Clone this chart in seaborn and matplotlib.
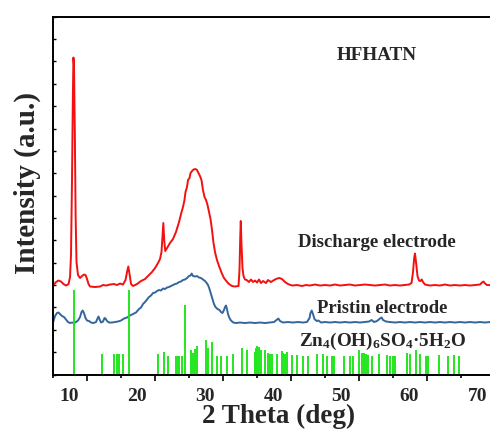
import numpy as np
import pandas as pd
import matplotlib
matplotlib.use("Agg")
import matplotlib.pyplot as plt
from matplotlib.transforms import ScaledTranslation
import seaborn as sns

# ---------------- data ----------------
# Discharge electrode pattern (2 theta in degrees, intensity in a.u.)
discharge_2theta = [
    5.00, 5.40, 5.76, 6.13, 6.50, 6.87, 7.24, 7.46, 7.60, 7.75, 7.87, 7.96, 8.04, 8.16,
    8.28, 8.41, 8.63, 8.93, 9.22, 9.51, 9.74, 9.96, 10.18, 10.40, 11.13, 11.87, 12.31,
    12.75, 13.34, 13.93, 14.37, 14.81, 15.25, 15.62, 15.84, 16.03, 16.21, 16.43, 16.72,
    17.31, 17.90, 18.49, 19.07, 19.51, 19.96, 20.40, 20.69, 20.91, 21.06, 21.18, 21.31,
    21.46, 21.72, 22.16, 22.60, 23.04, 23.49, 23.78, 24.07, 24.29, 24.44, 24.66, 24.81,
    25.03, 25.18, 25.40, 25.62, 25.91, 26.13, 26.35, 26.57, 26.79, 27.01, 27.24, 27.46,
    27.68, 27.90, 28.12, 28.34, 28.56, 28.78, 29.07, 29.37, 29.76, 30.10, 30.50, 30.84,
    31.28, 31.72, 32.24, 32.38, 32.50, 32.57, 32.68, 32.82, 32.97, 33.19, 33.44, 33.78,
    34.07, 34.37, 34.66, 34.96, 35.25, 35.54, 35.84, 36.28, 36.57, 37.01, 37.46, 37.90,
    38.26, 38.63, 39.07, 39.51, 40.10, 40.84, 41.57, 42.16, 42.75, 43.49, 44.22, 44.96,
    45.69, 46.43, 47.16, 47.90, 48.63, 49.37, 50.10, 50.84, 51.57, 52.31, 53.04, 53.78,
    54.51, 55.25, 55.99, 56.72, 57.31, 57.68, 57.90, 58.07, 58.19, 58.34, 58.56, 58.78,
    59.00, 59.18, 59.37, 59.66, 60.40, 61.13, 61.87, 62.60, 63.34, 64.07, 64.81, 65.54,
    66.28, 67.01, 67.75, 68.04, 68.26, 68.49, 68.78, 69.22, 69.96,
]
discharge_int = [
    1, 4, 5.5, 4.5, 2, 0.5, 2, 9, 31, 106, 186, 228.5, 221, 156,
    71, 24, 11, 8, 10, 11.5, 11, 7, 2, -0.5, -1, -0.5, 1,
    0.5, 1.5, 2, 1, 2.5, 1.5, 6, 14, 19.5, 12, 2, 0,
    2, 5, 7, 11, 14, 18, 23, 27, 34, 50, 63, 46,
    35, 38, 43, 47, 54, 64, 72, 79, 86, 94, 99, 106,
    108, 113, 115, 116.5, 117, 116, 113, 110, 106, 96, 89, 86,
    81, 74, 67, 56, 43, 34, 26, 20, 13, 8, 4.5, 2,
    0, -0.5, 0, 16, 51, 65, 41, 18, 10, 6.5, 6, 4,
    6.5, 4, 5.5, 3.5, 6.5, 3, 5, 3, 6, 4, 6, 7.5,
    8, 7, 4, 2, 0.5, 1, 0, 1, 0.5, 1.5, 0.5, 1,
    0.5, 1.5, 0.5, 1, 1.5, 0.5, 1, 1.5, 1, 0.5, 1, 1.5,
    0.5, 1, 0.5, 1, 1.5, 3, 14, 28, 32.5, 24, 10, 5.5,
    5, 6.5, 4, 1.5, 0.5, 1, 0.5, 1.5, 0.5, 1, 0.5, 1,
    0.5, 1, 1.5, 3.5, 4.5, 2.5, 1, 1, 0.5,
]

# Pristine electrode pattern
pristine_2theta = [
    5.00, 5.25, 5.54, 5.76, 5.99, 6.28, 6.57, 6.87, 7.16, 7.46, 7.75, 8.04, 8.34, 8.63,
    8.93, 9.15, 9.32, 9.51, 9.74, 9.96, 10.25, 10.54, 10.91, 11.28, 11.50, 11.65, 11.79,
    12.01, 12.31, 12.53, 12.68, 12.90, 13.19, 13.63, 14.07, 14.51, 14.96, 15.40, 15.84,
    16.28, 16.72, 17.16, 17.60, 17.90, 18.19, 18.49, 18.78, 19.07, 19.37, 19.66, 19.96,
    20.25, 20.54, 20.84, 21.13, 21.43, 21.72, 22.01, 22.31, 22.60, 22.90, 23.19, 23.49,
    23.78, 24.07, 24.37, 24.66, 24.96, 25.18, 25.35, 25.54, 25.84, 26.13, 26.43, 26.72,
    27.01, 27.31, 27.56, 27.75, 27.97, 28.19, 28.41, 28.63, 28.85, 29.15, 29.44, 29.66,
    29.88, 30.10, 30.25, 30.40, 30.54, 30.69, 30.91, 31.13, 31.47, 31.87, 32.46, 33.19,
    33.93, 34.66, 35.40, 36.13, 36.87, 37.46, 37.82, 38.09, 38.34, 38.78, 39.51, 40.25,
    40.99, 41.72, 42.31, 42.68, 42.82, 43.00, 43.19, 43.41, 43.74, 44.00, 44.37, 44.96,
    45.69, 46.43, 47.16, 47.90, 48.63, 49.37, 50.10, 50.84, 51.43, 51.82, 52.16, 52.60,
    53.04, 53.29, 53.49, 53.93, 54.51, 55.25, 55.99, 56.72, 57.46, 58.19, 58.93, 59.66,
    60.40, 61.13, 61.87, 62.60, 63.34, 64.07, 64.81, 65.54, 66.28, 67.01, 67.75, 68.49,
    69.22, 69.96,
]
pristine_int = [
    0.8, 6.5, 9.5, 10, 8.5, 6.5, 5.5, 3, 0.5, -0.5, 0, -0.5, 0.5, 2,
    5.5, 10.5, 12, 9.5, 4.5, 2, 1.5, 0, -0.5, 0.5, 4, 6, 3.5,
    0, 1, 4.5, 4, 1.5, 0, 0, 0.5, 1, 2, 4, 5,
    7, 8.5, 10, 13.5, 15, 18.5, 20.5, 23, 25.5, 27, 29.5, 30,
    31.5, 32.5, 32, 34, 33.5, 35, 35.5, 36.5, 37.5, 38.5, 39, 40.5,
    41, 42.5, 43, 44.5, 46.5, 47, 49, 46.5, 46, 46.5, 45, 44.5,
    43, 41.5, 39.5, 37.5, 33.5, 28.5, 23.5, 18.5, 15.5, 13.5, 12.5, 10.5,
    9.5, 12.5, 15.5, 17, 13.5, 8.5, 4.5, 2, 0, -0.5, 0, -0.5,
    0, -0.5, 0, -0.5, 0, 0.5, 2.5, 4, 1.5, 0, 0.5, 0,
    0.5, 0, 0.5, 4.5, 9.5, 12, 8.5, 3.5, 1.5, 2, 0, 0.5,
    0, 0.5, 0, 0.5, 0, 0.5, 0, 0.5, 1, 2.5, 0.5, 1.5,
    4, 5, 2.5, 1, 0.5, 0, 0.5, 0, 0.5, 0, 0.5, 0,
    0.5, 0, 0.5, 0, 0.5, 0, 0.5, 0, 0.5, 0, 0.5, 0,
    0.5, 0,
]

# Zn4(OH)6SO4·5H2O reference reflections
ref_2theta = [
    8.04, 12.16, 13.88, 14.41, 14.66, 15.29, 16.13, 20.44, 21.28, 21.87, 23.04, 23.29,
    23.53, 23.88, 24.32, 25.21, 25.60, 25.84, 26.09, 27.46, 27.79, 28.38, 29.12, 29.62,
    30.50, 31.38, 32.71, 33.53, 34.66, 34.81, 35.00, 35.25, 35.59, 36.18, 36.53, 36.87,
    37.21, 37.85, 38.59, 38.82, 39.07, 39.32, 40.06, 40.79, 41.76, 42.50, 43.74, 44.62,
    45.21, 45.94, 46.28, 47.75, 48.63, 49.12, 50.00, 50.35, 50.69, 50.99, 51.32, 51.82,
    52.90, 54.12, 54.51, 55.00, 55.25, 56.97, 57.46, 58.29, 58.93, 59.76, 60.15, 61.72,
    63.04, 63.97, 64.66,
]
ref_int = [
    85, 20.5, 20.5, 20.5, 21, 20.5, 85, 20.5, 22.5, 18.5, 18.5, 18.5,
    18.5, 19, 69.8, 24.5, 21.5, 26, 29, 35, 27, 32.5, 18.5, 18.5,
    18.5, 20.5, 26.5, 24.5, 22.5, 27, 28.5, 28, 24.5, 24.5, 22, 20.5,
    20.5, 21, 23.5, 21.5, 20.5, 22.5, 19.5, 19.5, 18.5, 18.5, 20.5, 20.5,
    19, 18.5, 18.5, 19, 19, 19, 25, 21.5, 21.5, 21, 19.5, 19,
    21, 19.5, 19, 18.5, 18.5, 22, 21, 24.5, 20.5, 19, 19, 19.5,
    19, 19.5, 19,
]

xtick_values = [10, 20, 30, 40, 50, 60, 70]

# ---------------- style ----------------
sns.set_theme(style="ticks")
plt.rcParams["font.family"] = ["Liberation Serif", "DejaVu Serif"]
plt.rcParams["font.weight"] = "bold"
plt.rcParams["mathtext.fontset"] = "custom"
plt.rcParams["mathtext.rm"] = "Liberation Serif:bold"
plt.rcParams["mathtext.default"] = "rm"

RED = "#f21010"
BLUE = "#34669c"
GREEN = "#22e61e"

fig = plt.figure(figsize=(4.9, 4.29), dpi=100)
ax = fig.add_axes([0.1088, 0.127, 0.902, 0.834])

discharge = pd.DataFrame({"two_theta": discharge_2theta, "intensity": discharge_int})
pristine = pd.DataFrame({"two_theta": pristine_2theta, "intensity": pristine_int})
discharge["stacked"] = discharge["intensity"] + 88.5
pristine["stacked"] = pristine["intensity"] + 52.0

sns.lineplot(data=discharge, x="two_theta", y="stacked", sort=False, estimator=None,
             color=RED, lw=1.4, ax=ax)
sns.lineplot(data=pristine, x="two_theta", y="stacked", sort=False, estimator=None,
             color=BLUE, lw=1.4, ax=ax)
ax.vlines(ref_2theta, 0, ref_int, colors=GREEN, lw=1.4)

ymax = 357.8
ax.set_xlim(5, 70)
ax.set_ylim(0, ymax)

# axis frame and ticks
for side in ["left", "bottom", "top", "right"]:
    ax.spines[side].set_linewidth(1.4)
    ax.spines[side].set_color("black")

ax.set_xticks(xtick_values)
ax.set_xticks(np.arange(5, 71, 5), minor=True)
ax.set_xticklabels([])
ax.tick_params(axis="x", which="major", direction="out", length=4.5, width=1.2,
               color="black", top=False)
ax.tick_params(axis="x", which="minor", direction="out", length=2.3, width=1.2,
               color="black", top=False)
ax.set_yticks(np.linspace(0, ymax, 17))
ax.set_yticklabels([])
ax.tick_params(axis="y", which="major", direction="in", length=2.2, width=1.0,
               color="black", right=False)
ax.set_xlabel("")
ax.set_ylabel("")

# x tick labels sit a little left of their tick marks
label_shift = ScaledTranslation(-18 / 100, -13 / 100, fig.dpi_scale_trans)
for v in xtick_values:
    ax.text(v, 0, str(v), transform=ax.get_xaxis_transform() + label_shift,
            ha="center", va="top", fontsize=14, fontweight="bold", clip_on=False)

fig.text(0.569, 0.014, "2 Theta (deg)", ha="center", va="baseline",
         fontsize=19.5, fontweight="bold")
fig.text(0.055, 0.573, "Intensity (a.u.)", rotation=90, ha="center", va="center",
         fontsize=21, fontweight="bold")

# series annotations
ax.text(52.6, 314.5, "HFHATN", ha="center", va="baseline", fontsize=13.8,
        fontweight="bold")
ax.text(52.6, 127.2, "Discharge electrode", ha="center", va="baseline",
        fontsize=13.5, fontweight="bold")
ax.text(53.3, 61.2, "Pristin electrode", ha="center", va="baseline",
        fontsize=13.4, fontweight="bold")
ax.text(53.5, 28.8, "Zn$_4$(OH)$_6$SO$_4$·5H$_2$O", ha="center", va="baseline",
        fontsize=13.8, fontweight="bold")

fig.savefig("out.png", dpi=100)
